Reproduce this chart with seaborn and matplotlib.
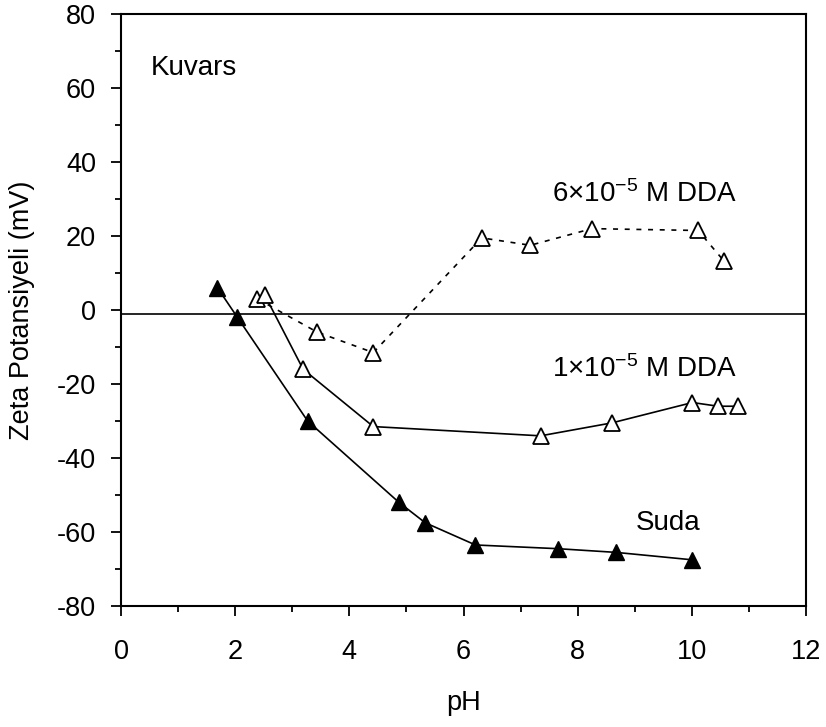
import matplotlib
matplotlib.use("Agg")
import matplotlib.pyplot as plt
from matplotlib.ticker import MultipleLocator
import pandas as pd
import seaborn as sns

# Kuvars zeta potansiyeli - pH (okunan degerler)
suda_ph = [1.69, 2.04, 3.27, 4.87, 5.33, 6.21, 7.65, 8.67, 10.0]
suda_zeta = [6, -2, -30, -52, -57.5, -63.5, -64.5, -65.5, -67.5]

dda1_ph = [2.52, 3.19, 4.42, 7.35, 8.6, 10.01, 10.46, 10.8]
dda1_zeta = [4, -16, -31.5, -34, -30.5, -25, -26, -26]

dda6_ph = [2.39, 3.44, 4.42, 6.32, 7.17, 8.25, 10.11, 10.56]
dda6_zeta = [3, -6, -11.5, 19.5, 17.5, 22, 21.5, 13.3]

zero_line = -1

sns.set_style("ticks")
plt.rcParams["font.family"] = ["Liberation Sans", "DejaVu Sans"]
plt.rcParams["mathtext.default"] = "regular"
plt.rcParams["axes.unicode_minus"] = False
for key in ["text.color", "axes.labelcolor", "xtick.color", "ytick.color",
            "axes.edgecolor"]:
    plt.rcParams[key] = "black"

df_suda = pd.DataFrame({"pH": suda_ph, "zeta": suda_zeta})
df_d1 = pd.DataFrame({"pH": dda1_ph, "zeta": dda1_zeta})
df_d6 = pd.DataFrame({"pH": dda6_ph, "zeta": dda6_zeta})

fig = plt.figure(figsize=(8.26, 7.27), dpi=100)
ax = fig.add_axes([0.1465, 0.1664, 0.8293, 0.8143])

ax.axhline(zero_line, color="black", lw=1.2, zorder=1)

sns.lineplot(data=df_d6, x="pH", y="zeta", ax=ax, color="black", lw=1.2,
             linestyle=(0, (3, 4)), marker="^", markersize=12,
             markerfacecolor="white", markeredgecolor="black",
             markeredgewidth=1.3, sort=False, zorder=3)
sns.lineplot(data=df_d1, x="pH", y="zeta", ax=ax, color="black", lw=1.2,
             marker="^", markersize=12, markerfacecolor="white",
             markeredgecolor="black", markeredgewidth=1.3, sort=False, zorder=3)
sns.lineplot(data=df_suda, x="pH", y="zeta", ax=ax, color="black", lw=1.2,
             marker="^", markersize=12, markerfacecolor="black",
             markeredgecolor="black", markeredgewidth=1.0, sort=False, zorder=3)

ax.set_xlim(0, 12)
ax.set_ylim(-80, 80)
ax.xaxis.set_major_locator(MultipleLocator(2))
ax.xaxis.set_minor_locator(MultipleLocator(1))
ax.yaxis.set_major_locator(MultipleLocator(20))
ax.yaxis.set_minor_locator(MultipleLocator(10))

for s in ax.spines.values():
    s.set_linewidth(1.5)
    s.set_color("black")

ax.tick_params(axis="both", which="major", direction="out", length=7,
               width=1.3, labelsize=19.5, colors="black")
ax.tick_params(axis="both", which="minor", direction="out", length=4.5,
               width=1.3, colors="black")
ax.tick_params(axis="x", which="major", pad=17)
ax.tick_params(axis="y", which="major", pad=11)

ax.set_xlabel("pH", fontsize=19.5, labelpad=18, color="black")
ax.set_ylabel("Zeta Potansiyeli (mV)", fontsize=19.5, labelpad=16, color="black")

ax.text(0.52, 63.5, "Kuvars", fontsize=20, ha="left", va="baseline")
ax.text(10.79, 29.2, r"6×10$^{-5}$ M DDA", fontsize=20, ha="right", va="baseline")
ax.text(10.79, -18.1, r"1×10$^{-5}$ M DDA", fontsize=20, ha="right", va="baseline")
ax.text(9.02, -59.5, "Suda", fontsize=20, ha="left", va="baseline")

fig.savefig("out.png", dpi=100)
